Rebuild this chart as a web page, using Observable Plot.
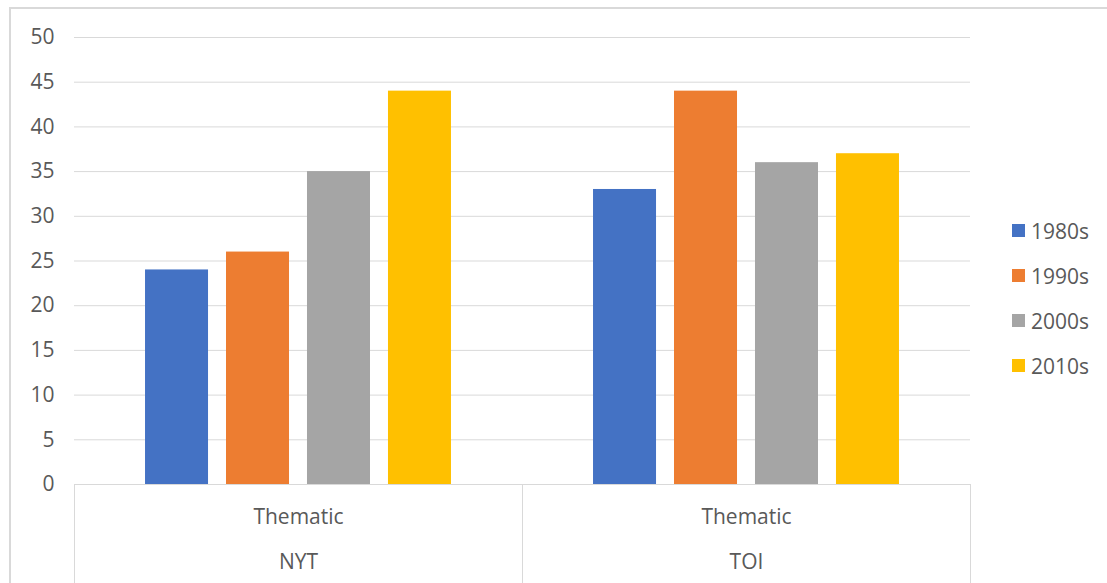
<!DOCTYPE html>
<html>
<head>
<meta charset="utf-8">
<script src="https://cdn.jsdelivr.net/npm/d3@7"></script>
<script src="https://cdn.jsdelivr.net/npm/@observablehq/plot@0.6"></script>
<style>
  html, body { margin: 0; padding: 0; background: #fff; }
  #wrap { position: relative; width: 1107px; height: 583px; overflow: hidden; font-family: "Open Sans", sans-serif; }
  #border { position: absolute; left: 9px; top: 7px; width: 1200px; height: 700px; border-left: 2px solid #d9d9d9; border-top: 2px solid #d9d9d9; box-sizing: border-box; }
  #chart { position: absolute; left: 0; top: 0; }
  #legend { position: absolute; left: 1012px; top: 208px; }
  .item { display: flex; align-items: center; height: 45px; font-size: 21px; color: #595959; }
  .sw { width: 13px; height: 13px; margin-right: 6px; }
</style>
</head>
<body>
<div id="wrap">
  <div id="border"></div>
  <div id="chart"></div>
  <div id="legend"></div>
</div>
<script>
const groups = ["NYT", "TOI"];
const subLabels = ["Thematic", "Thematic"];
const decades = ["1980s", "1990s", "2000s", "2010s"];
const colors = ["#4472C4", "#ED7D31", "#A5A5A5", "#FFC000"];
const nytValues = [24, 26, 35, 44];
const toiValues = [33, 44, 36, 37];
const yTicks = [0, 5, 10, 15, 20, 25, 30, 35, 40, 45, 50];

const seriesByGroup = [nytValues, toiValues];
const data = [];
groups.forEach((g, gi) => decades.forEach((d, di) => data.push({group: g, decade: d, value: seriesByGroup[gi][di]})));
const subOf = Object.fromEntries(groups.map((g, i) => [g, subLabels[i]]));

const W = 1107, H = 583;
const mTop = 37, mBottom = 99, mLeft = 73, mRight = 137;
const plotH = H - mTop - mBottom;
const textColor = "#595959";
const gridColor = "#d9d9d9";
const font = "'Open Sans', sans-serif";
const fs = 21;

const chart = Plot.plot({
  width: W,
  height: H,
  marginTop: mTop,
  marginBottom: mBottom,
  marginLeft: mLeft,
  marginRight: mRight,
  style: {fontFamily: font, fontSize: fs + "px", color: textColor, background: "transparent"},
  fx: {domain: groups, padding: 0, label: null},
  x: {domain: decades, paddingInner: 0.222, paddingOuter: 0.877, round: false, axis: null},
  y: {domain: [0, 50], label: null},
  color: {domain: decades, range: colors},
  marks: [
    Plot.gridY(yTicks, {stroke: gridColor, strokeOpacity: 1}),
    Plot.frame({stroke: gridColor, strokeOpacity: 1, insetTop: plotH, insetBottom: -105}),
    Plot.barY(data, {fx: "group", x: "decade", y: "value", fill: "decade"}),
    Plot.axisY(yTicks, {tickSize: 0, tickPadding: 20, label: null, fill: textColor, fontSize: fs}),
    Plot.axisFx({anchor: "bottom", tickSize: 0, tickPadding: 25, label: null, tickFormat: d => subOf[d], fill: textColor, fontSize: fs}),
    Plot.axisFx({anchor: "bottom", tickSize: 0, tickPadding: 70, label: null, fill: textColor, fontSize: fs})
  ]
});
document.getElementById("chart").appendChild(chart);

const color = chart.scale("color");
const legend = document.getElementById("legend");
color.domain.forEach((d, i) => {
  const item = document.createElement("div");
  item.className = "item";
  const sw = document.createElement("div");
  sw.className = "sw";
  sw.style.background = color.range[i];
  const lab = document.createElement("span");
  lab.textContent = d;
  item.appendChild(sw);
  item.appendChild(lab);
  legend.appendChild(item);
});
</script>
</body>
</html>
